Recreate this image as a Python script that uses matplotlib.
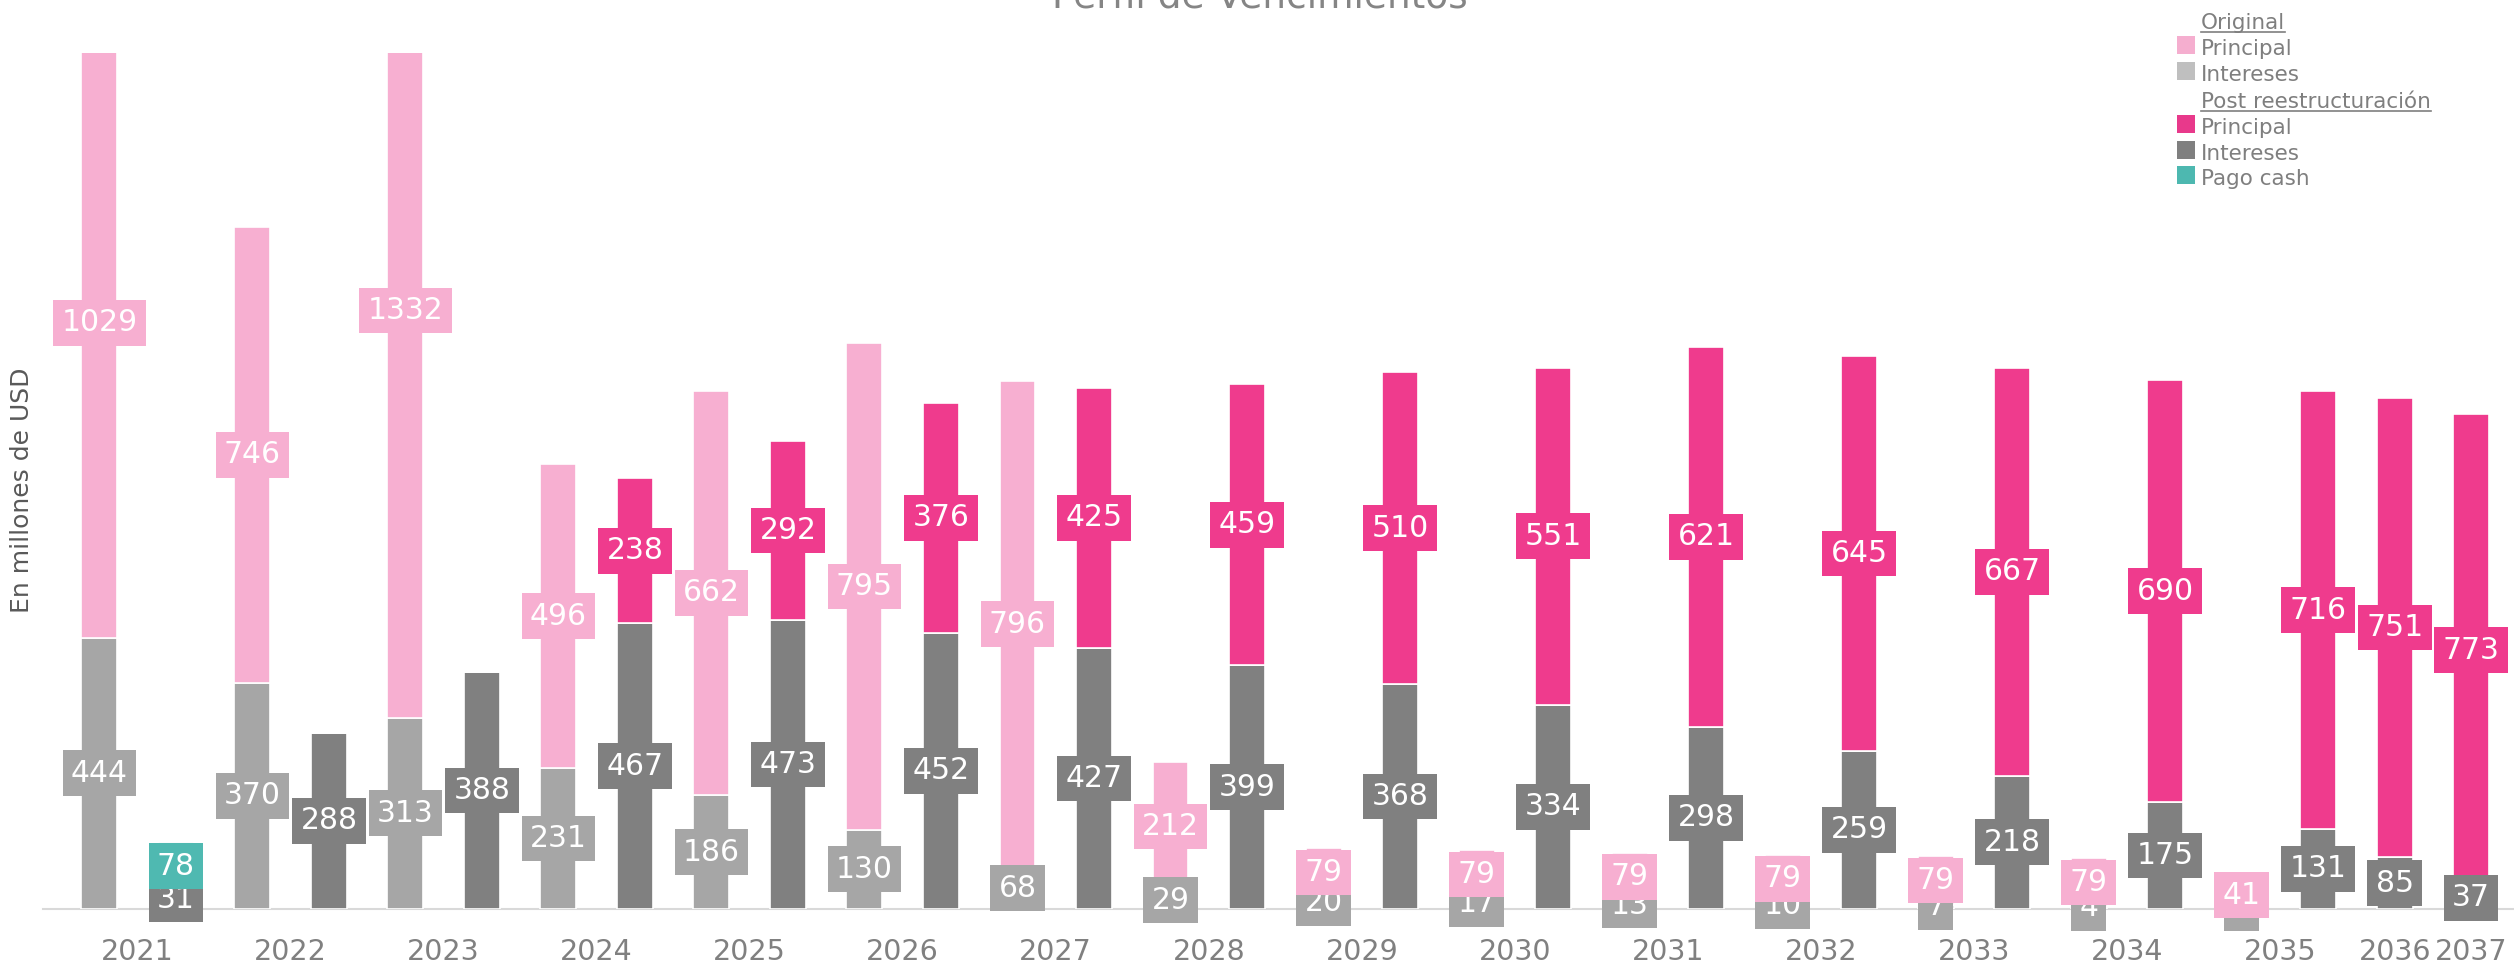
import matplotlib
matplotlib.use("Agg")
import matplotlib.pyplot as plt
from matplotlib.patches import Rectangle
from matplotlib.lines import Line2D

# datos (millones de USD)
years_orig = list(range(2021, 2036))
orig_int = [444, 370, 313, 231, 186, 130, 68, 29, 20, 17, 13, 10, 7, 4, 2]
orig_prin = [1029, 746, 1332, 496, 662, 795, 796, 212, 79, 79, 79, 79, 79, 79, 41]

years_post = list(range(2021, 2038))
post_int = [31, 288, 388, 467, 473, 452, 427, 399, 368, 334, 298, 259, 218, 175, 131, 85, 37]
post_prin = [0, 0, 0, 238, 292, 376, 425, 459, 510, 551, 621, 645, 667, 690, 716, 751, 773]
post_cash = [78] + [0] * 16

C_ORIG_PRIN = "#F7AFD1"
C_ORIG_INT = "#A6A6A6"
C_POST_PRIN = "#EF3B8D"
C_POST_INT = "#808080"
C_CASH = "#4FB9B1"

W, H = 2514, 964
fig = plt.figure(figsize=(W / 100, H / 100), dpi=100)
ax = fig.add_axes([43 / W, 55 / H, 1 - 43 / W, (909 - 53) / H])

# posiciones: una ranura por barra, original y luego post por año
pos_orig, pos_post, tick_pos, tick_lab = {}, {}, [], []
slot = 0
for y in sorted(set(years_orig) | set(years_post)):
    slots = []
    if y in years_orig:
        pos_orig[y] = slot
        slots.append(slot)
        slot += 1
    if y in years_post:
        pos_post[y] = slot
        slots.append(slot)
        slot += 1
    tick_pos.append(sum(slots) / len(slots))
    tick_lab.append(str(y))

bw = 0.47


def stack(xs, layers, z):
    bottom = [0] * len(xs)
    for vals, col in layers:
        ax.bar(xs, vals, bw, bottom=bottom, color=col, edgecolor="white",
               linewidth=1.2, zorder=2)
        for x, b, v in zip(xs, bottom, vals):
            if v <= 0:
                continue
            ax.text(x, b + v / 2, str(v), ha="center", va="center", fontsize=21.5,
                    color="white", clip_on=False, zorder=z,
                    bbox=dict(boxstyle="square,pad=0.28", fc=col, ec="none"))
        bottom = [b + v for b, v in zip(bottom, vals)]
        z += 1


stack([pos_orig[y] for y in years_orig],
      [(orig_int, C_ORIG_INT), (orig_prin, C_ORIG_PRIN)], 5)
stack([pos_post[y] for y in years_post],
      [(post_int, C_POST_INT), (post_cash, C_CASH), (post_prin, C_POST_PRIN)], 5)

ax.set_xlim(-0.737, 31.56)
ax.set_ylim(0, 1400)
ax.set_xticks(tick_pos, tick_lab)
ax.tick_params(axis="x", length=0, pad=21, labelsize=20.5, labelcolor="#808080")
ax.set_yticks([])
for s in ["top", "right", "left"]:
    ax.spines[s].set_visible(False)
ax.spines["bottom"].set_color("#D9D9D9")
ax.spines["bottom"].set_linewidth(1.5)
ax.spines["bottom"].set_zorder(1)


def px(x, y):
    return x / W, 1 - y / H


fig.text(*px(1260, 8), "Perfil de Vencimientos", ha="center", va="baseline",
         fontsize=27, color="#858585")
fig.text(*px(22, 490), "En millones de USD", rotation=90, ha="center",
         va="center", fontsize=18, color="#595959")

# leyenda
legend_rows = [
    ("Original", None),
    ("Principal", "#F5AECF"),
    ("Intereses", "#BFBFBF"),
    ("Post reestructuración", None),
    ("Principal", "#E8398B"),
    ("Intereses", "#7F7F7F"),
    ("Pago cash", "#4DB8B0"),
]
baselines = [29, 55, 81, 108, 134, 160, 185]
headers = []
for (lab, col), yb in zip(legend_rows, baselines):
    t = fig.text(*px(2201, yb), lab, ha="left", va="baseline", fontsize=15.5,
                 color="#7F7F7F")
    if col is None:
        headers.append((t, yb))
    else:
        fig.patches.append(Rectangle(px(2177, yb - 1), 18 / W, 18 / H,
                                     transform=fig.transFigure, fc=col, ec="none"))

fig.canvas.draw()
r = fig.canvas.get_renderer()
for t, yb in headers:
    bb = t.get_window_extent(r)
    x0, x1 = bb.x0 / W, bb.x1 / W
    yy = 1 - (yb + 3) / H
    fig.lines.append(Line2D([x0, x1], [yy, yy], transform=fig.transFigure,
                            color="#7F7F7F", linewidth=1.2))

fig.savefig("out.png", dpi=100)
